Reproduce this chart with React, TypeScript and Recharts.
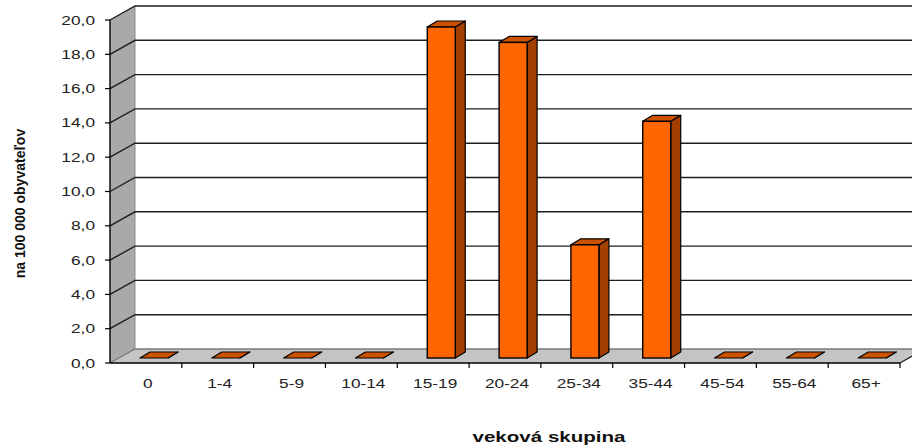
import React from 'react';
import {
  BarChart,
  Bar,
  XAxis,
  YAxis,
  CartesianGrid,
  Label,
} from 'recharts';

const categories = ['0', '1-4', '5-9', '10-14', '15-19', '20-24', '25-34', '35-44', '45-54', '55-64', '65+'];
const values = [0, 0, 0, 0, 19.3, 18.4, 6.6, 13.8, 0, 0, 0];
const yTicks = [0, 2, 4, 6, 8, 10, 12, 14, 16, 18, 20];

const data = categories.map((c, i) => ({ group: c, value: values[i] }));

// 3D look: back wall offset and bar depth
const WALL_DX = 25;
const WALL_DY = 14;
const BAR_SHIFT_X = 8;
const BAR_SHIFT_Y = 5;
const DEPTH_X = 10;
const DEPTH_Y = 6;
const FONT = 'Liberation Sans, Arial, sans-serif';

const fmt = (v: number) => v.toFixed(1).replace('.', ',');

const wallGrid = (p: any) => {
  const bottom = p.y + p.height;
  if (Math.abs(p.y1 - bottom) > 0.5) return <g key={`w${p.index}`} />;
  const { x1, x2, y1 } = p;
  const top = p.y;
  return (
    <g key={`w${p.index}`}>
      <polygon
        points={`${x1},${top} ${x1 + WALL_DX},${top - WALL_DY} ${x1 + WALL_DX},${y1 - WALL_DY} ${x1},${y1}`}
        fill="#a9a9a9"
      />
      <polygon
        points={`${x1},${y1} ${x1 + WALL_DX},${y1 - WALL_DY} ${x2 + WALL_DX},${y1 - WALL_DY} ${x2},${y1}`}
        fill="#c4c4c4"
      />
      <line x1={x1 + WALL_DX} y1={top - WALL_DY} x2={x1 + WALL_DX} y2={y1 - WALL_DY} stroke="#8a8a8a" strokeWidth={1} />
      <line x1={x2} y1={y1} x2={x2 + WALL_DX} y2={y1 - WALL_DY} stroke="#222" strokeWidth={1.2} />
    </g>
  );
};

const lineGrid = (p: any) => {
  const { x1, x2, y1 } = p;
  const isFloor = Math.abs(p.y1 - (p.y + p.height)) < 0.5;
  return (
    <polyline
      key={`l${p.index}`}
      points={`${x1},${y1} ${x1 + WALL_DX},${y1 - WALL_DY} ${x2 + WALL_DX},${y1 - WALL_DY}`}
      fill="none"
      stroke={isFloor ? '#7a7a7a' : '#1e1e1e'}
      strokeWidth={1.4}
    />
  );
};

const Bar3D = (props: any) => {
  const { x, y, width, height } = props;
  const fx = x + BAR_SHIFT_X;
  const top = y - BAR_SHIFT_Y;
  const bot = y + height - BAR_SHIFT_Y;
  const w = width;
  return (
    <g>
      <polygon
        points={`${fx + w},${top} ${fx + w + DEPTH_X},${top - DEPTH_Y} ${fx + w + DEPTH_X},${bot - DEPTH_Y} ${fx + w},${bot}`}
        fill="#a33f00"
        stroke="#000"
        strokeWidth={1.2}
        strokeLinejoin="round"
      />
      <polygon
        points={`${fx},${top} ${fx + DEPTH_X},${top - DEPTH_Y} ${fx + w + DEPTH_X},${top - DEPTH_Y} ${fx + w},${top}`}
        fill="#cc5200"
        stroke="#000"
        strokeWidth={1.2}
        strokeLinejoin="round"
      />
      {height > 0 && (
        <rect x={fx} y={top} width={w} height={bot - top} fill="#ff6600" stroke="#000" strokeWidth={1.4} />
      )}
    </g>
  );
};

const XTick = (props: any) => {
  const { x, y, payload, width, visibleTicksCount } = props;
  const band = width && visibleTicksCount ? width / visibleTicksCount : 71.8;
  const bx = x + band / 2;
  return (
    <g>
      <line x1={bx} y1={y - 5} x2={bx} y2={y} stroke="#000" strokeWidth={1.2} />
      <text
        transform={`translate(${x + 2},${y + 20}) scale(1.33,1)`}
        textAnchor="middle"
        fontFamily={FONT}
        fontSize={13}
        fill="#222"
      >
        {payload.value}
      </text>
    </g>
  );
};

const YTick = (props: any) => {
  const { x, y, payload } = props;
  return (
    <text
      transform={`translate(${x},${y + 4.5}) scale(1.33,1)`}
      textAnchor="end"
      fontFamily={FONT}
      fontSize={13}
      fill="#222"
    >
      {fmt(payload.value)}
    </text>
  );
};

export default function App() {
  return (
    <div style={{ position: 'absolute', left: 0, top: 0, width: 912, height: 445, background: '#fff' }}>
      <BarChart
        width={912}
        height={445}
        data={data}
        margin={{ top: 20, right: 12, left: 0, bottom: 0 }}
        barSize={28}
      >
        <CartesianGrid vertical={false} horizontal={wallGrid} />
        <CartesianGrid vertical={false} horizontal={lineGrid} />
        <XAxis
          dataKey="group"
          height={82}
          tickSize={5}
          tickMargin={0}
          tickLine={false}
          axisLine={{ stroke: '#000', strokeWidth: 1.4 }}
          tick={<XTick />}
          interval={0}
        >
          <Label
            content={(p: any) => {
              const vb = p.viewBox;
              const cx = vb.x + vb.width / 2 + 44;
              return (
                <text
                  transform={`translate(${cx},${vb.y + vb.height - 3}) scale(1.37,1)`}
                  textAnchor="middle"
                  fontFamily={FONT}
                  fontSize={15}
                  fontWeight="bold"
                  fill="#111"
                >
                  veková skupina
                </text>
              );
            }}
          />
        </XAxis>
        <YAxis
          width={110}
          domain={[0, 20]}
          ticks={yTicks}
          tickSize={5}
          tickMargin={10}
          tickLine={{ stroke: '#000', strokeWidth: 1.2 }}
          axisLine={{ stroke: '#000', strokeWidth: 1.4 }}
          tick={<YTick />}
          interval={0}
        >
          <Label
            content={(p: any) => {
              const vb = p.viewBox;
              const cy = vb.y + vb.height / 2 + 12;
              return (
                <text
                  transform={`translate(${vb.x + 25},${cy}) rotate(-90)`}
                  textAnchor="middle"
                  fontFamily={FONT}
                  fontSize={14}
                  fontWeight="bold"
                  fill="#111"
                >
                  na 100 000 obyvateľov
                </text>
              );
            }}
          />
        </YAxis>
        <Bar dataKey="value" shape={<Bar3D />} isAnimationActive={false} />
      </BarChart>
    </div>
  );
}
